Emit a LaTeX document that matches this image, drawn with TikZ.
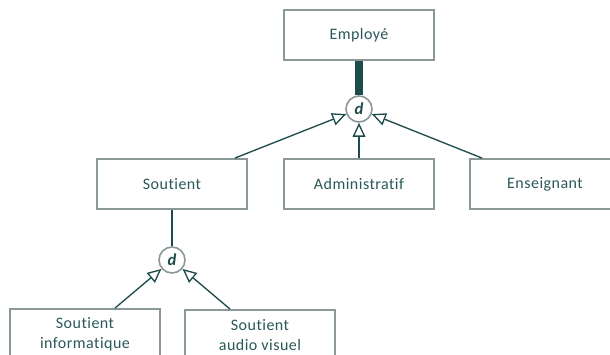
\documentclass[tikz,border=0pt]{standalone}
\usepackage{fontspec}
\setmainfont{Carlito}[Ligatures={NoCommon}, LetterSpace=3]
\usetikzlibrary{arrows.meta}
\definecolor{ink}{HTML}{1E4B4B}
\definecolor{txt}{HTML}{2A5858}
\definecolor{frame}{HTML}{8A9898}
\tikzset{
  entity/.style={draw=frame, line width=1.4pt, fill=white, minimum width=150*0.75pt,
    minimum height=50*0.75pt, inner sep=0pt, text=txt, font=\fontsize{12}{15}\selectfont,
    align=center},
  disj/.style={circle, draw=frame, line width=1.2pt, fill=white, minimum size=26*0.75pt,
    inner sep=0pt, text=ink, font=\fontsize{12.5}{14}\selectfont\bfseries\itshape},
  link/.style={draw=ink, line width=1pt},
  isa/.style={link, -{Triangle[open, length=10.5pt, width=9.5pt, fill=white]}},
  total/.style={draw=ink, line width=6pt}
}
\begin{document}
\begin{tikzpicture}[x=0.75pt, y=-0.75pt]
  \useasboundingbox (0,0) rectangle (610,354);
  % supertype and its subtypes
  \node[entity] (emp) at (359,35) {Employé};
  \node[disj] (d1) at (359,109) {d};
  \node[entity] (sout) at (172,184) {Soutient};
  \node[entity] (admin) at (359,184) {Administratif};
  \node[entity] (ens) at (545,184) {Enseignant};
  % second level under Soutient
  \node[disj] (d2) at (172,260) {d};
  \node[entity] (info) at (85,334) {Soutient\\informatique};
  \node[entity] (audio) at (260,335) {Soutient\\audio visuel};

  \draw[total] (emp.south) -- (d1.north);
  \draw[isa] ([xshift=-13*0.75pt]sout.north east) -- (d1);
  \draw[isa] (admin.north) -- (d1);
  \draw[isa] ([xshift=13*0.75pt]ens.north west) -- (d1);

  \draw[link] (sout.south) -- (d2.north);
  \draw[isa] ([xshift=30*0.75pt]info.north) -- (d2);
  \draw[isa] ([xshift=-30*0.75pt]audio.north) -- (d2);
\end{tikzpicture}
\end{document}
